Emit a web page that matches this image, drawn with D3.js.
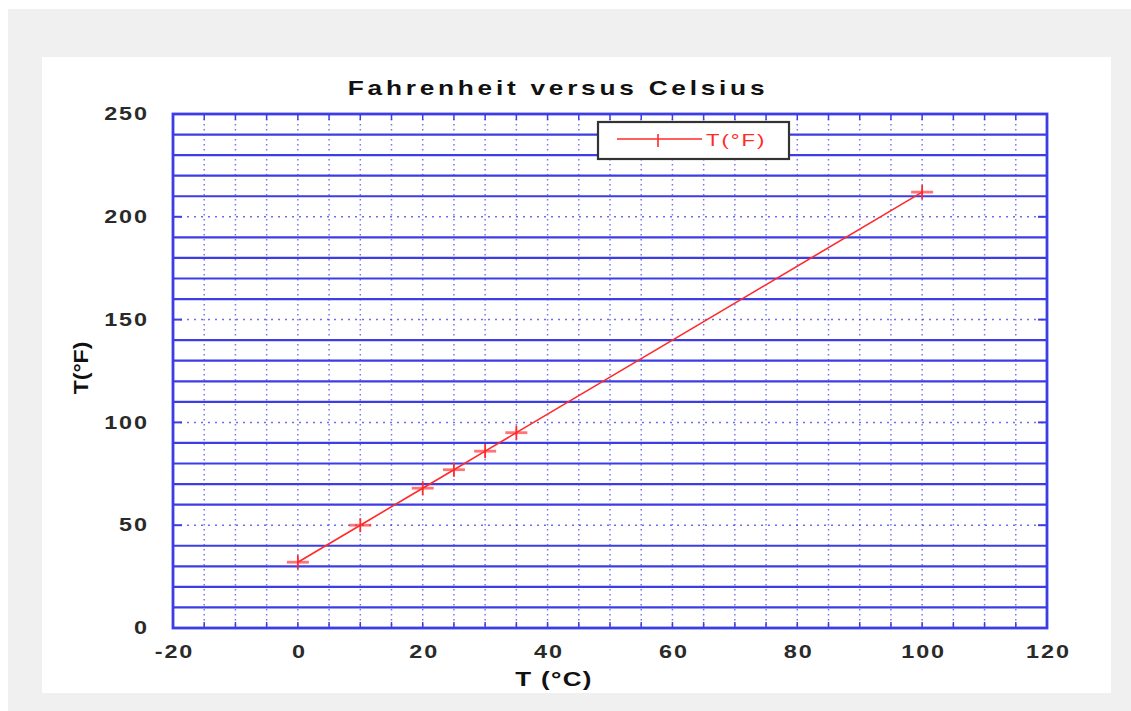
<!DOCTYPE html>
<meta charset="utf-8">
<html>
  <head>
    <script src="https://d3js.org/d3.v7.min.js"></script>
    <style>
      body { margin: 0; background: white; }
      svg { display: block; font-family: "Liberation Sans", Arial, sans-serif; }
    </style>
  </head>
  <body>
    <div id="chart"></div>
    <script>
      // data
      const celsius = [0, 10, 20, 25, 30, 35, 100];
      const fahrenheit = [32, 50, 68, 77, 86, 95, 212];
      const xTicks = [-20, 0, 20, 40, 60, 80, 100, 120];
      const yTicks = [0, 50, 100, 150, 200, 250];
      const seriesName = "T(°F)";

      const width = 1131, height = 711;
      const plot = {left: 173, right: 1047, top: 114, bottom: 628};
      const blue = "#3d3de6";
      const red = "#ff2a2a";
      const stretch = 1.3; // the picture's text is drawn wide

      const svg = d3.select("#chart").append("svg")
        .attr("width", width)
        .attr("height", height);

      // backgrounds
      svg.append("rect").attr("x", 8).attr("y", 9).attr("width", width - 8).attr("height", height - 9).attr("fill", "#f0f0f0");
      svg.append("rect").attr("x", 42).attr("y", 57).attr("width", 1111 - 42).attr("height", 693 - 57).attr("fill", "white");

      const x = d3.scaleLinear().domain([-20, 120]).range([plot.left, plot.right]);
      const y = d3.scaleLinear().domain([0, 250]).range([plot.bottom, plot.top]);

      const grid = svg.append("g");

      // vertical dotted grid every 5 degrees
      grid.selectAll(".vgrid")
        .data(d3.range(-15, 120, 5))
        .join("line")
        .attr("x1", d => x(d)).attr("x2", d => x(d))
        .attr("y1", plot.top).attr("y2", plot.bottom)
        .attr("stroke", blue)
        .attr("stroke-width", 1.5)
        .attr("stroke-opacity", 0.7)
        .attr("stroke-dasharray", "1.5,3.5");

      // horizontal solid minor grid
      grid.selectAll(".hminor")
        .data(d3.range(10, 250, 10).filter(v => v % 50 !== 0))
        .join("line")
        .attr("x1", plot.left).attr("x2", plot.right)
        .attr("y1", d => y(d)).attr("y2", d => y(d))
        .attr("stroke", blue)
        .attr("stroke-width", 2.2);

      // horizontal dotted major grid
      grid.selectAll(".hmajor")
        .data(yTicks.filter(v => v > 0 && v < 250))
        .join("line")
        .attr("x1", plot.left).attr("x2", plot.right)
        .attr("y1", d => y(d)).attr("y2", d => y(d))
        .attr("stroke", blue)
        .attr("stroke-width", 1.5)
        .attr("stroke-opacity", 0.75)
        .attr("stroke-dasharray", "2,5");

      // ticks inside the frame
      const xt = d3.range(-15, 120, 5);
      grid.selectAll(".tb").data(xt).join("line")
        .attr("x1", d => x(d)).attr("x2", d => x(d))
        .attr("y1", plot.bottom).attr("y2", plot.bottom - 6)
        .attr("stroke", blue).attr("stroke-width", 1.5);
      grid.selectAll(".tt").data(xt).join("line")
        .attr("x1", d => x(d)).attr("x2", d => x(d))
        .attr("y1", plot.top).attr("y2", plot.top + 6)
        .attr("stroke", blue).attr("stroke-width", 1.5);
      grid.selectAll(".tl").data(yTicks).join("line")
        .attr("x1", plot.left).attr("x2", plot.left + 9)
        .attr("y1", d => y(d)).attr("y2", d => y(d))
        .attr("stroke", blue).attr("stroke-width", 2);
      grid.selectAll(".tr").data(yTicks).join("line")
        .attr("x1", plot.right).attr("x2", plot.right - 9)
        .attr("y1", d => y(d)).attr("y2", d => y(d))
        .attr("stroke", blue).attr("stroke-width", 2);

      // frame
      svg.append("rect")
        .attr("x", plot.left).attr("y", plot.top)
        .attr("width", plot.right - plot.left).attr("height", plot.bottom - plot.top)
        .attr("fill", "none").attr("stroke", blue).attr("stroke-width", 2.8);

      // axes labels
      const xAxis = svg.append("g")
        .attr("transform", `translate(1,${plot.bottom})`)
        .call(d3.axisBottom(x).tickValues(xTicks).tickSize(0).tickPadding(17).tickFormat(d3.format("d")));
      const yPad = 25;
      const yAxis = svg.append("g")
        .attr("transform", `translate(${plot.left + 1},0)`)
        .call(d3.axisLeft(y).tickValues(yTicks).tickSize(0).tickPadding(yPad));
      [xAxis, yAxis].forEach(a => {
        a.select(".domain").remove();
        a.selectAll("text")
          .attr("font-size", 18)
          .attr("font-weight", "bold")
          .attr("font-family", "Liberation Sans, Arial, sans-serif")
          .attr("letter-spacing", "1.5px")
          .attr("fill", "#2a2a2a");
      });
      xAxis.selectAll("text")
        .text(d => d < 0 ? "-" + Math.abs(d) : d)
        .attr("transform", `scale(${stretch},1)`);
      yAxis.selectAll("text")
        .attr("transform", `translate(${-yPad},0) scale(${stretch},1) translate(${yPad},0)`);

      // series
      const pts = celsius.map((c, i) => ({c: c, f: fahrenheit[i]}));
      svg.append("path")
        .datum(pts)
        .attr("fill", "none")
        .attr("stroke", red)
        .attr("stroke-width", 1.6)
        .attr("d", d3.line().x(d => x(d.c)).y(d => y(d.f)));

      const marks = svg.append("g").selectAll("g").data(pts).join("g")
        .attr("transform", d => `translate(${x(d.c)},${y(d.f)})`);
      marks.append("line").attr("x1", -11).attr("x2", 11).attr("y1", 0).attr("y2", 0)
        .attr("stroke", red).attr("stroke-width", 2.8).attr("stroke-opacity", 0.65);
      marks.append("line").attr("x1", 0).attr("x2", 0).attr("y1", -7).attr("y2", 7)
        .attr("stroke", red).attr("stroke-width", 1.8);

      // legend
      const legend = svg.append("g");
      legend.append("rect")
        .attr("x", 598).attr("y", 122).attr("width", 191).attr("height", 37)
        .attr("fill", "white").attr("stroke", "#333").attr("stroke-width", 2.2);
      legend.append("line").attr("x1", 617).attr("x2", 702).attr("y1", 139).attr("y2", 139)
        .attr("stroke", red).attr("stroke-width", 1.6);
      legend.append("line").attr("x1", 658).attr("x2", 658).attr("y1", 134).attr("y2", 147)
        .attr("stroke", red).attr("stroke-width", 1.6);
      legend.append("text")
        .attr("transform", `translate(706,146) scale(${stretch},1)`)
        .attr("font-size", 17).attr("letter-spacing", "1.5px").attr("fill", red)
        .text(seriesName);

      // titles
      svg.append("text")
        .attr("transform", `translate(558,95) scale(1.25,1)`)
        .attr("text-anchor", "middle")
        .attr("font-size", 21).attr("font-weight", "bold")
        .attr("letter-spacing", "3px")
        .attr("fill", "#111")
        .text("Fahrenheit versus Celsius");
      svg.append("text")
        .attr("transform", `translate(554,686) scale(${stretch},1)`)
        .attr("text-anchor", "middle")
        .attr("font-size", 20).attr("font-weight", "bold")
        .attr("letter-spacing", "1px")
        .attr("fill", "#111")
        .text("T (°C)");
      svg.append("text")
        .attr("transform", "translate(88,368) rotate(-90) scale(1.15,1)")
        .attr("text-anchor", "middle")
        .attr("font-size", 20).attr("font-weight", "bold")
        .attr("fill", "#111")
        .text("T(°F)");
    </script>
  </body>
</html>
